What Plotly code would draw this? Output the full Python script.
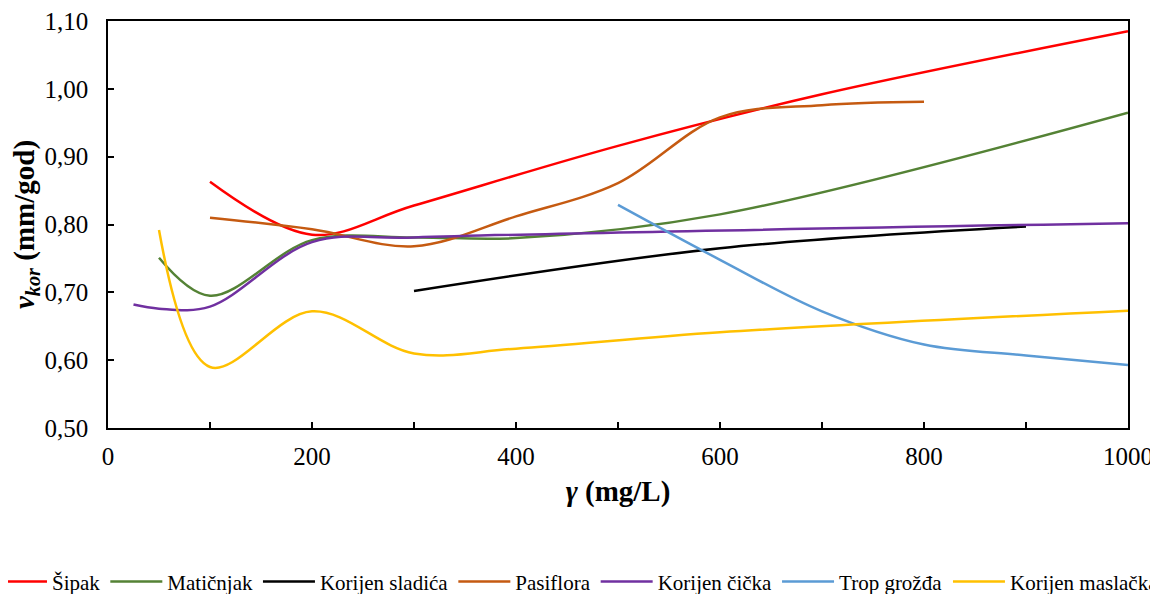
import plotly.graph_objects as go

# Concentration (mg/L) and corrosion rate (mm/god) for each extract
x_sipak = [100, 200, 300, 500, 700, 1000]
y_sipak = [0.863, 0.785, 0.828, 0.916, 0.992, 1.085]

x_maticnjak = [50, 100, 200, 300, 400, 600, 1000]
y_maticnjak = [0.751, 0.695, 0.777, 0.781, 0.780, 0.815, 0.965]

x_sladic = [300, 600, 900]
y_sladic = [0.702, 0.765, 0.797]

x_pasiflora = [100, 200, 300, 400, 500, 600, 700, 800]
y_pasiflora = [0.810, 0.793, 0.768, 0.812, 0.861, 0.958, 0.976, 0.981]

x_cicak = [25, 50, 100, 200, 300, 1000]
y_cicak = [0.682, 0.676, 0.679, 0.774, 0.781, 0.802]

x_grozde = [500, 600, 700, 800, 900, 1000]
y_grozde = [0.829, 0.748, 0.672, 0.623, 0.607, 0.593]

x_maslacak = [50, 100, 200, 300, 400, 600, 1000]
y_maslacak = [0.792, 0.590, 0.672, 0.610, 0.617, 0.641, 0.673]

series = [
    ("Šipak", x_sipak, y_sipak, "#FF0000", "legend"),
    ("Matičnjak", x_maticnjak, y_maticnjak, "#548235", "legend"),
    ("Korijen sladića", x_sladic, y_sladic, "#000000", "legend"),
    ("Pasiflora", x_pasiflora, y_pasiflora, "#C55A11", "legend"),
    ("Korijen čička", x_cicak, y_cicak, "#7030A0", "legend"),
    ("Trop grožđa", x_grozde, y_grozde, "#5B9BD5", "legend"),
    ("Korijen maslačka", x_maslacak, y_maslacak, "#FFC000", "legend2"),
]

FONT = "Liberation Serif"

fig = go.Figure()
for name, xs, ys, color, leg in series:
    fig.add_trace(go.Scatter(
        x=xs, y=ys, name=name, mode="lines",
        line=dict(color=color, width=2.5, shape="spline", smoothing=1),
        legend=leg,
    ))

legend_style = dict(
    orientation="h", xanchor="left", yanchor="middle",
    font=dict(family=FONT, size=21, color="black"),
    itemwidth=52, bgcolor="rgba(0,0,0,0)",
)

# the page body has an 8px margin, so the figure is 8px smaller than the window
fig.update_layout(
    width=1150, height=586,
    margin=dict(l=100, r=30, t=13, b=166, autoexpand=False),
    plot_bgcolor="white", paper_bgcolor="white",
    separators=", ",
    font=dict(family=FONT, size=25, color="black"),
    showlegend=True,
    legend=dict(x=-0.1157, y=-0.378, **legend_style),
    legend2=dict(x=0.8235, y=-0.378, **legend_style),
)

fig.update_xaxes(
    range=[0, 1000], dtick=200, tickformat="d",
    ticks="inside", ticklen=6, tickwidth=1.5, tickcolor="black",
    minor=dict(dtick=100, ticks="inside", ticklen=6, tickwidth=1.5, tickcolor="black"),
    showline=True, linecolor="black", linewidth=1.5, mirror=True,
    showgrid=False, zeroline=False, automargin=False,
    ticklabelstandoff=5, ticklabeloverflow="allow",
    title=dict(text="<b><i>γ</i> (mg/L)</b>", font=dict(size=29), standoff=12),
)

# upper bound nudged so the 1,10 tick isn't dropped by float rounding
fig.update_yaxes(
    range=[0.5, 1.1001], tick0=0.5, dtick=0.1, tickformat=".2f",
    ticks="inside", ticklen=6, tickwidth=1.5, tickcolor="black",
    showline=True, linecolor="black", linewidth=1.5, mirror=True,
    showgrid=False, zeroline=False, automargin=False,
    ticklabelstandoff=13, ticklabeloverflow="allow",
    title=dict(text="<b><i>v</i><sub><i>kor</i></sub> (mm/god)</b>", font=dict(size=29), standoff=6),
)

fig.write_html("out.html")
